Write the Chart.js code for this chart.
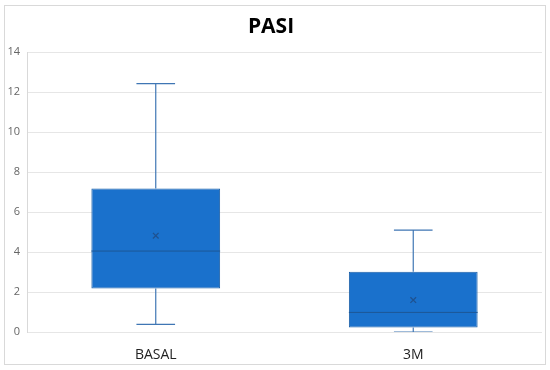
<!DOCTYPE html>
<html>
<head>
<meta charset="utf-8">
<script src="https://cdn.jsdelivr.net/npm/chart.js@4"></script>
<style>
    body { margin: 0; background: #fff; }
    #wrap { width: 550px; height: 370px; position: relative; }
</style>
</head>
<body>
<div id="wrap"><canvas id="pasiChart" width="550" height="370"></canvas></div>
<script>
const categories = ['BASAL', '3M'];
const minVals = [0.38, 0.0];
const q1Vals = [2.18, 0.22];
const medianVals = [4.05, 0.98];
const q3Vals = [7.18, 3.02];
const maxVals = [12.43, 5.1];
const meanVals = [4.82, 1.6];
const yTicks = [0, 2, 4, 6, 8, 10, 12, 14];

// whiskers, caps and median lines, drawn through the chart's scales
const boxExtras = {
    id: 'boxExtras',
    afterDatasetsDraw(chart) {
        const ctx = chart.ctx;
        const y = chart.scales.y;
        const area = chart.chartArea;
        const bars = chart.getDatasetMeta(0).data;
        ctx.save();
        ctx.beginPath();
        ctx.rect(area.left, area.top, area.right - area.left, area.bottom - area.top);
        ctx.clip();
        bars.forEach((bar, i) => {
            const cx = bar.x;
            const half = bar.width / 2;
            const cap = bar.width * 0.15;

            ctx.strokeStyle = '#3f76b4';
            ctx.lineWidth = 1.2;
            ctx.beginPath();
            ctx.moveTo(cx, y.getPixelForValue(q3Vals[i]));
            ctx.lineTo(cx, y.getPixelForValue(maxVals[i]));
            ctx.moveTo(cx - cap, y.getPixelForValue(maxVals[i]));
            ctx.lineTo(cx + cap, y.getPixelForValue(maxVals[i]));
            ctx.moveTo(cx, y.getPixelForValue(q1Vals[i]));
            ctx.lineTo(cx, y.getPixelForValue(minVals[i]));
            ctx.moveTo(cx - cap, y.getPixelForValue(minVals[i]));
            ctx.lineTo(cx + cap, y.getPixelForValue(minVals[i]));
            ctx.stroke();

            ctx.strokeStyle = '#1d5796';
            ctx.lineWidth = 1;
            ctx.beginPath();
            ctx.moveTo(cx - half, y.getPixelForValue(medianVals[i]));
            ctx.lineTo(cx + half, y.getPixelForValue(medianVals[i]));
            ctx.stroke();
        });
        ctx.restore();
    }
};

const frame = {
    id: 'frame',
    beforeDraw(chart) {
        const ctx = chart.ctx;
        ctx.save();
        ctx.fillStyle = '#fff';
        ctx.fillRect(0, 0, chart.width, chart.height);
        ctx.strokeStyle = '#d9d9d9';
        ctx.lineWidth = 1;
        ctx.strokeRect(4.5, 5.5, 541, 359);
        ctx.restore();
    }
};

const ctx = document.getElementById('pasiChart').getContext('2d');
new Chart(ctx, {
    type: 'bar',
    data: {
        labels: categories,
        datasets: [
            {
                label: 'box',
                data: categories.map((c, i) => [q1Vals[i], q3Vals[i]]),
                backgroundColor: '#1a71cc',
                borderColor: '#1b5fa6',
                borderWidth: 1,
                borderSkipped: false,
                barPercentage: 0.5,
                categoryPercentage: 1,
                order: 2
            },
            {
                label: 'mean',
                type: 'line',
                data: meanVals,
                showLine: false,
                pointStyle: 'crossRot',
                pointRadius: 4,
                borderColor: '#1f5290',
                borderWidth: 1.3,
                order: 1
            }
        ]
    },
    options: {
        responsive: false,
        animation: false,
        layout: { padding: { left: 0, right: 8, top: 0, bottom: 0 } },
        plugins: {
            legend: { display: false },
            tooltip: { enabled: false },
            title: {
                display: true,
                text: 'PASI',
                color: '#000',
                font: { family: 'Open Sans', size: 21, weight: 'bold' },
                padding: { top: 14, bottom: 13 }
            }
        },
        scales: {
            x: {
                grid: { display: false },
                border: { display: false },
                ticks: {
                    color: '#222',
                    padding: 7,
                    font: { family: 'Open Sans', size: 14 }
                },
                afterFit: (scale) => { scale.height = 38; }
            },
            y: {
                min: 0,
                max: 14,
                afterBuildTicks: (scale) => { scale.ticks = yTicks.map(v => ({ value: v })); },
                grid: { color: '#e6e6e6', drawTicks: false },
                border: { display: true, color: '#d9d9d9' },
                ticks: {
                    color: '#666',
                    padding: 7,
                    font: { family: 'Open Sans', size: 11 }
                },
                afterFit: (scale) => { scale.width = 27; }
            }
        }
    },
    plugins: [frame, boxExtras]
});
</script>
</body>
</html>
